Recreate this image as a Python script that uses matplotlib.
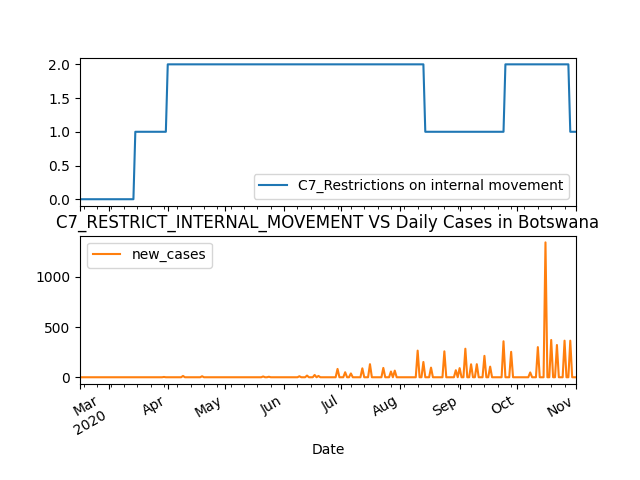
import matplotlib
matplotlib.use('Agg')
import matplotlib.pyplot as plt
import pandas as pd

start_date = '2020-02-15'
end_date = '2020-11-01'

# C7 level changes: date on which the level starts, and the level
c7_change_dates = ['2020-02-15', '2020-03-15', '2020-04-01', '2020-08-14', '2020-09-25', '2020-10-29']
c7_levels = [0, 1, 2, 1, 2, 1]

# Daily new cases (days not listed are 0)
case_dates = ['2020-03-30', '2020-04-09', '2020-04-19', '2020-05-21', '2020-05-24',
              '2020-06-09', '2020-06-13', '2020-06-17', '2020-06-19', '2020-06-29',
              '2020-07-03', '2020-07-06', '2020-07-12', '2020-07-16', '2020-07-23',
              '2020-07-27', '2020-07-29', '2020-08-10', '2020-08-13', '2020-08-17',
              '2020-08-24', '2020-08-30', '2020-09-01', '2020-09-04', '2020-09-07',
              '2020-09-10', '2020-09-14', '2020-09-17', '2020-09-24', '2020-09-28',
              '2020-10-08', '2020-10-12', '2020-10-16', '2020-10-19', '2020-10-22',
              '2020-10-26', '2020-10-29']
case_values = [3, 13, 10, 8, 5,
               10, 17, 23, 13, 83,
               50, 38, 89, 130, 93,
               57, 66, 265, 152, 96,
               258, 70, 91, 284, 129,
               130, 213, 106, 358, 253,
               48, 300, 1342, 371, 321,
               364, 364]

c7_col = 'C7_Restrictions on internal movement'
cases_col = 'new_cases'
title = 'C7_RESTRICT_INTERNAL_MOVEMENT VS Daily Cases in Botswana'

dates = pd.date_range(start_date, end_date, freq='D', name='Date')
c7 = pd.Series(c7_levels, index=pd.to_datetime(c7_change_dates)).reindex(dates, method='ffill')
cases = pd.Series(0, index=dates, dtype=float)
cases.loc[pd.to_datetime(case_dates)] = case_values

df = pd.DataFrame({c7_col: c7.values, cases_col: cases.values}, index=dates)

fig, (ax1, ax2) = plt.subplots(2, 1, figsize=(6.4, 4.8), dpi=100)
df.plot(y=c7_col, ax=ax1, color='#1f77b4')
df.plot(y=cases_col, ax=ax2, color='#ff7f0e', title=title)
ax1.legend(loc='lower right')
ax2.legend(loc='upper left')
fig.autofmt_xdate()
fig.savefig('out.png', dpi=100)
